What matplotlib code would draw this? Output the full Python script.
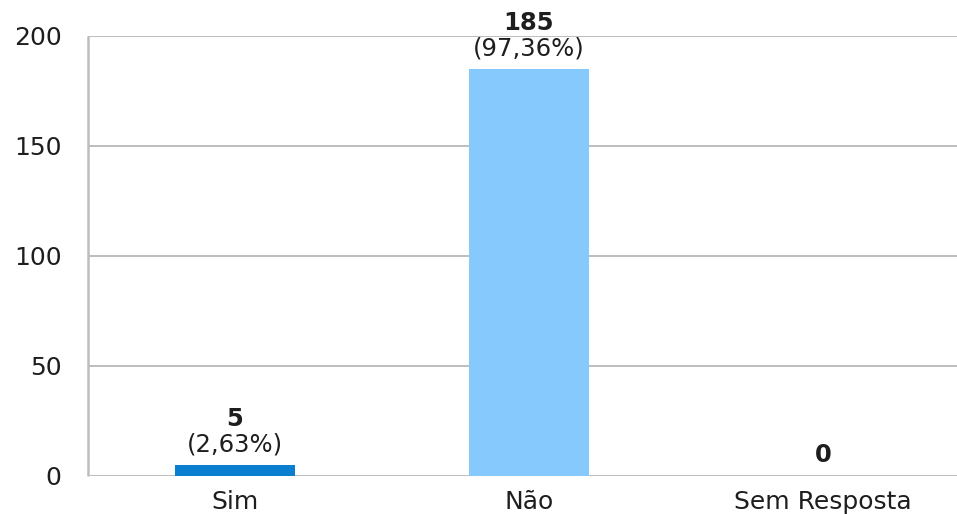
import matplotlib.pyplot as plt

# survey answers
categories = ['Sim', 'Não', 'Sem Resposta']
counts = [5, 185, 0]
percents = ['(2,63%)', '(97,36%)', None]
colors = ['#0A7FD0', '#86C9FC', '#86C9FC']

plt.rcParams['font.family'] = 'DejaVu Sans'
text_color = '#1E1E1E'
grid_color = '#BDBDBD'

fig = plt.figure(figsize=(9.57, 5.14), dpi=100)
ax = fig.add_axes([0.092, 0.074, 0.908, 0.856])

x = range(len(categories))
ax.bar(x, counts, width=0.41, color=colors, zorder=3)

# value on top, share in parentheses just under it
for xi, n, pct in zip(x, counts, percents):
    if pct is not None:
        ax.annotate(pct, (xi, n), xytext=(0, 9.5), textcoords='offset points',
                    ha='center', va='baseline', fontsize=17.5, color=text_color)
        ax.annotate(str(n), (xi, n), xytext=(0, 28), textcoords='offset points',
                    ha='center', va='baseline', fontsize=17.5, fontweight='bold',
                    color=text_color)
    else:
        ax.annotate(str(n), (xi, n), xytext=(0, 10), textcoords='offset points',
                    ha='center', va='baseline', fontsize=17.5, fontweight='bold',
                    color=text_color)

ax.set_xlim(-0.5, 2.456)
ax.set_ylim(0, 200)
ax.set_yticks([0, 50, 100, 150, 200])
ax.set_xticks(list(x))
ax.set_xticklabels(categories)

ax.yaxis.grid(True, color=grid_color, linewidth=1.4, zorder=0)
ax.set_axisbelow(True)
for side in ['top', 'right', 'bottom']:
    ax.spines[side].set_visible(False)
ax.spines['left'].set_color(grid_color)
ax.spines['left'].set_linewidth(1.8)
ax.spines['left'].set_capstyle('butt')

ax.tick_params(axis='y', length=0, pad=19, labelsize=18, labelcolor=text_color)
ax.tick_params(axis='x', length=0, pad=10, labelsize=18, labelcolor=text_color)

fig.savefig('out.png', dpi=100)
